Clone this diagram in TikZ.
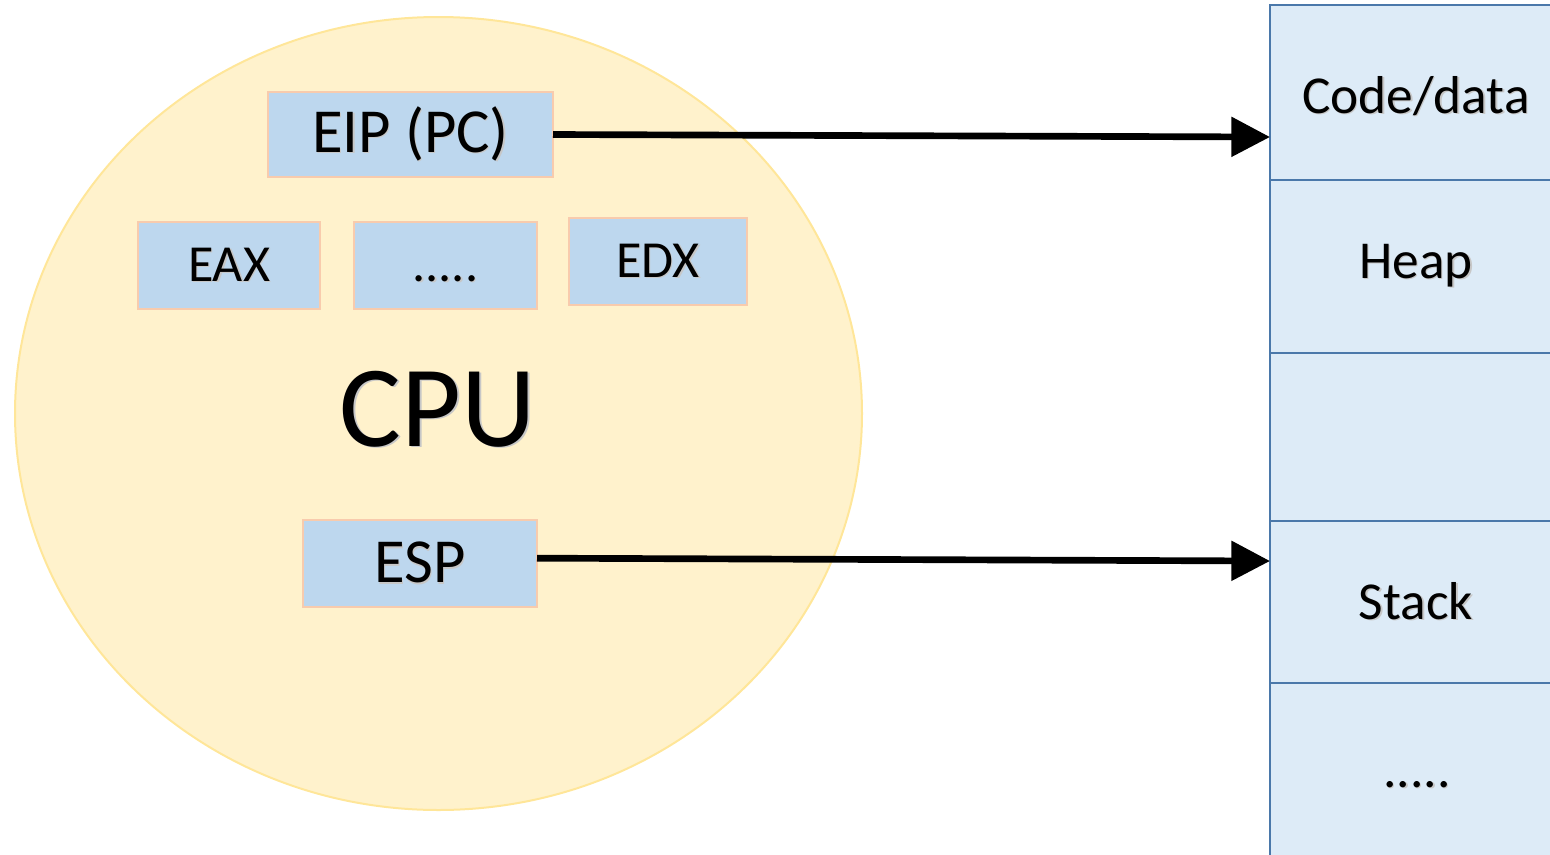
\documentclass[tikz,border=0pt]{standalone}
\usepackage{fontspec}
\setmainfont{Carlito}
\usetikzlibrary{shapes.geometric,arrows.meta}

\definecolor{cpufill}{HTML}{FFF2CC}
\definecolor{cpuline}{HTML}{FFE699}
\definecolor{regfill}{HTML}{BDD7EE}
\definecolor{regline}{HTML}{F8CBAD}
\definecolor{memfill}{HTML}{DDEBF7}
\definecolor{memline}{RGB}{74,120,170}

% text with a soft drop shadow
\newcommand{\shadowed}[1]{\leavevmode\rlap{\kern1pt\raisebox{-1pt}{\color{black!22}#1}}#1}

\tikzset{
  reg/.style={draw=regline, fill=regfill, line width=1.5pt, inner sep=0pt, outer sep=0pt,
    font=\fontsize{39pt}{39pt}\selectfont},
  bigreg/.style={reg, font=\fontsize{47pt}{47pt}\selectfont},
  memcell/.style={draw=memline, fill=memfill, line width=1.5pt, inner sep=0pt, outer sep=0pt,
    minimum width=219pt},
  memtext/.style={anchor=base, inner sep=0pt, font=\fontsize{40pt}{40pt}\selectfont},
  ptr/.style={line width=5pt, -{Triangle[length=29pt,width=29pt]}}
}

\begin{document}
\begin{tikzpicture}[x=0.75pt, y=-0.75pt]
\useasboundingbox (0,0) rectangle (1550,854);

% CPU
\node[ellipse, draw=cpuline, fill=cpufill, line width=1.5pt, inner sep=0pt,
      minimum width=635.25pt, minimum height=594.75pt] (cpu) at (438.5,413.5) {};
\node[anchor=base, inner sep=0pt, font=\fontsize{87pt}{87pt}\selectfont] (cpulabel) at (438,446) {\shadowed{CPU}};

% registers
\node[bigreg, minimum width=213.75pt, minimum height=63.75pt] (eip) at (410.5,134.5) {\shadowed{EIP (PC)}};
\node[reg, minimum width=136.5pt, minimum height=65.25pt] (eax) at (229,265.5) {\shadowed{EAX}};
\node[reg, minimum width=137.25pt, minimum height=65.25pt] (regdots) at (445.5,265.5) {\vphantom{EAX}\shadowed{.....}};
\node[reg, minimum width=133.5pt, minimum height=65.25pt] (edx) at (658,261.5) {\shadowed{EDX}};
\node[bigreg, minimum width=175.5pt, minimum height=65.25pt] (esp) at (420,563.5) {\shadowed{ESP}};

% memory layout
\node[memcell, minimum height=131.25pt] (code) at (1416,92.5) {};
\node[memcell, minimum height=129.75pt] (heap) at (1416,266.5) {};
\node[memcell, minimum height=126pt] (gap) at (1416,437) {};
\node[memcell, minimum height=121.5pt] (stack) at (1416,602) {};
\node[memcell, minimum height=135pt] (memdots) at (1416,773) {};
\node[memtext] (codelabel) at (1416,113) {\shadowed{Code/data}};
\node[memtext] (heaplabel) at (1416,278) {\shadowed{Heap}};
\node[memtext] (stacklabel) at (1416,619) {\shadowed{Stack}};
\node[memtext] (memdotslabel) at (1417,787) {\shadowed{.....}};

% pointers into memory
\coordinate (codein) at (1270,137);
\coordinate (stackin) at (1270,561);
\draw[ptr] (eip.east) -- (codein);
\draw[ptr] ([yshift=4pt]esp.east) -- (stackin);
\end{tikzpicture}
\end{document}
